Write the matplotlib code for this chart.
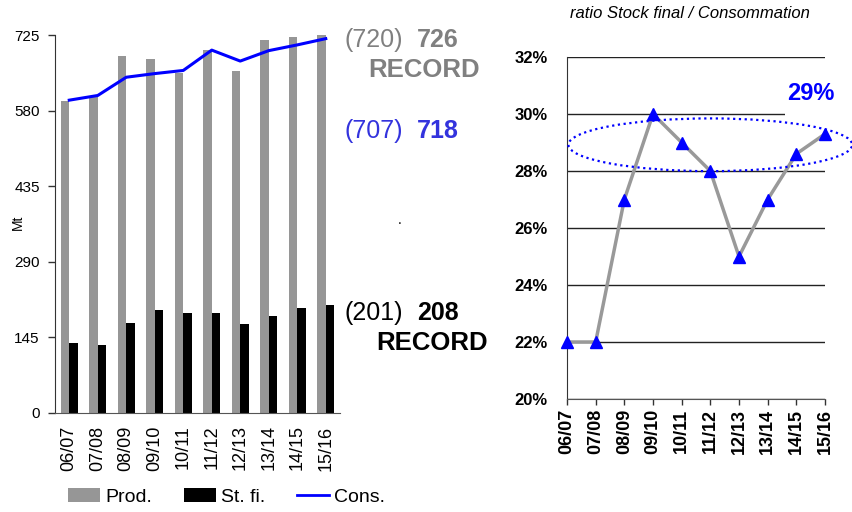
import matplotlib
matplotlib.use("Agg")
import matplotlib.pyplot as plt
import numpy as np
from matplotlib.patches import Ellipse, Rectangle
from matplotlib.lines import Line2D
from matplotlib.patches import Patch

plt.rcParams['font.family'] = ['Liberation Sans', 'DejaVu Sans']

campaigns = ["06/07", "07/08", "08/09", "09/10", "10/11", "11/12", "12/13", "13/14", "14/15", "15/16"]
production = [598, 607, 685, 679, 653, 696, 656, 715, 722, 726]
stock_final = [135, 131, 173, 198, 192, 192, 171, 186, 201, 208]
consumption = [600, 609, 644, 651, 657, 696, 675, 695, 706, 718]
ratio = [22, 22, 27, 30, 29, 28, 25, 27, 28.6, 29.3]
left_yticks = [0, 145, 290, 435, 580, 725]
right_yticks = [20, 22, 24, 26, 28, 30, 32]

W, H = 853, 512
fig = plt.figure(figsize=(W / 100, H / 100), dpi=100)

def fx(px):
    return px / W

def fy(py):
    return 1 - py / H

# ---------- left chart ----------
ax1 = fig.add_axes([fx(55), fy(413), fx(340 - 55), (413 - 35) / H])
x = np.arange(len(campaigns))
bw = 0.3
ax1.bar(x - bw / 2, production, width=bw, color='#969696', zorder=2)
ax1.bar(x + bw / 2, stock_final, width=bw, color='#000000', zorder=2)
ax1.plot(x, consumption, color='#0000ff', lw=2.2, zorder=3)
ax1.set_xlim(-0.5, len(campaigns) - 0.5)
ax1.set_ylim(0, 725)
ax1.set_yticks(left_yticks)
ax1.set_yticklabels([str(v) for v in left_yticks], fontsize=11)
ax1.set_xticks(x)
ax1.set_xticklabels(campaigns, rotation=90, fontsize=13)
ax1.tick_params(axis='x', length=0, pad=9)
ax1.tick_params(axis='y', length=5, width=1, color='#333333', pad=6)
for s in ['top', 'right']:
    ax1.spines[s].set_visible(False)
ax1.spines['left'].set_color('#333333')
ax1.spines['bottom'].set_color('#555555')
fig.text(fx(18), fy(222), 'Mt', fontsize=10, rotation=90, va='center', ha='center')

# legend
handles = [Patch(facecolor='#969696', edgecolor='none'),
           Patch(facecolor='#000000', edgecolor='none'),
           Line2D([0], [0], color='#0000ff', lw=2)]
fig.legend(handles, ['Prod.', 'St. fi.', 'Cons.'], loc='center left',
           bbox_to_anchor=(fx(68), fy(497)), ncol=3, frameon=False, fontsize=14,
           handlelength=1.65, handleheight=0.7, handletextpad=0.25, columnspacing=1.65,
           borderpad=0, borderaxespad=0)

# annotations
fig.text(fx(345), fy(40), '(720)', color='#808080', fontsize=18, va='center', ha='left')
fig.text(fx(417), fy(40), '726', color='#808080', fontsize=18, fontweight='bold', va='center', ha='left')
fig.text(fx(368), fy(70), 'RECORD', color='#808080', fontsize=18.5, fontweight='bold', va='center', ha='left')
fig.text(fx(345), fy(131), '(707)', color='#3333dd', fontsize=18, va='center', ha='left')
fig.text(fx(417), fy(131), '718', color='#3333dd', fontsize=18, fontweight='bold', va='center', ha='left')
fig.text(fx(398), fy(220), '.', color='#000000', fontsize=10, va='center', ha='left')
fig.text(fx(345), fy(313), '(201)', color='#000000', fontsize=18, va='center', ha='left')
fig.text(fx(417), fy(313), '208', color='#000000', fontsize=18, fontweight='bold', va='center', ha='left')
fig.text(fx(376), fy(343), 'RECORD', color='#000000', fontsize=18.5, fontweight='bold', va='center', ha='left')

# ---------- right chart ----------
ax2 = fig.add_axes([fx(567), fy(399), fx(825 - 567), (399 - 57) / H])
ax2.set_xlim(0, len(campaigns) - 1)
ax2.set_ylim(20, 32)
ax2.set_yticks(right_yticks)
ax2.set_yticklabels([f"{v}%" for v in right_yticks], fontsize=12, fontweight='bold')
ax2.set_xticks(x)
ax2.set_xticklabels(campaigns, rotation=90, fontsize=13, fontweight='bold')
ax2.tick_params(axis='x', length=4, width=1, color='#333333', pad=3)
ax2.tick_params(axis='y', length=0, pad=14)
ax2.yaxis.grid(True, color='#222222', lw=1)
ax2.set_axisbelow(True)
for s in ['top', 'right']:
    ax2.spines[s].set_visible(False)
ax2.spines['left'].set_color('#333333')
ax2.spines['bottom'].set_color('#555555')
ax2.plot(x, ratio, color='#999999', lw=2.5, zorder=3, clip_on=False)
ax2.plot(x, ratio, ls='none', marker='^', ms=9, color='#0000ff', zorder=4, clip_on=False)

# white box hiding part of the 30% gridline (behind the "29%" label)
ax2.add_patch(Rectangle((7.6, 29.85), 1.4, 1.4, facecolor='white', edgecolor='none',
                        zorder=1.5))
ell = Ellipse((5.0, 28.92), 9.9, 1.85, fill=False, edgecolor='#0000ff', lw=1.6,
              ls=(0, (1, 1.6)), zorder=5, clip_on=False)
ax2.add_patch(ell)
fig.text(fx(811), fy(93), '29%', color='#0000ff', fontsize=17, fontweight='bold',
         va='center', ha='center')
fig.text(fx(690), fy(13), 'ratio Stock final / Consommation', fontsize=12,
         fontstyle='italic', va='center', ha='center')

fig.savefig('out.png', dpi=100)
